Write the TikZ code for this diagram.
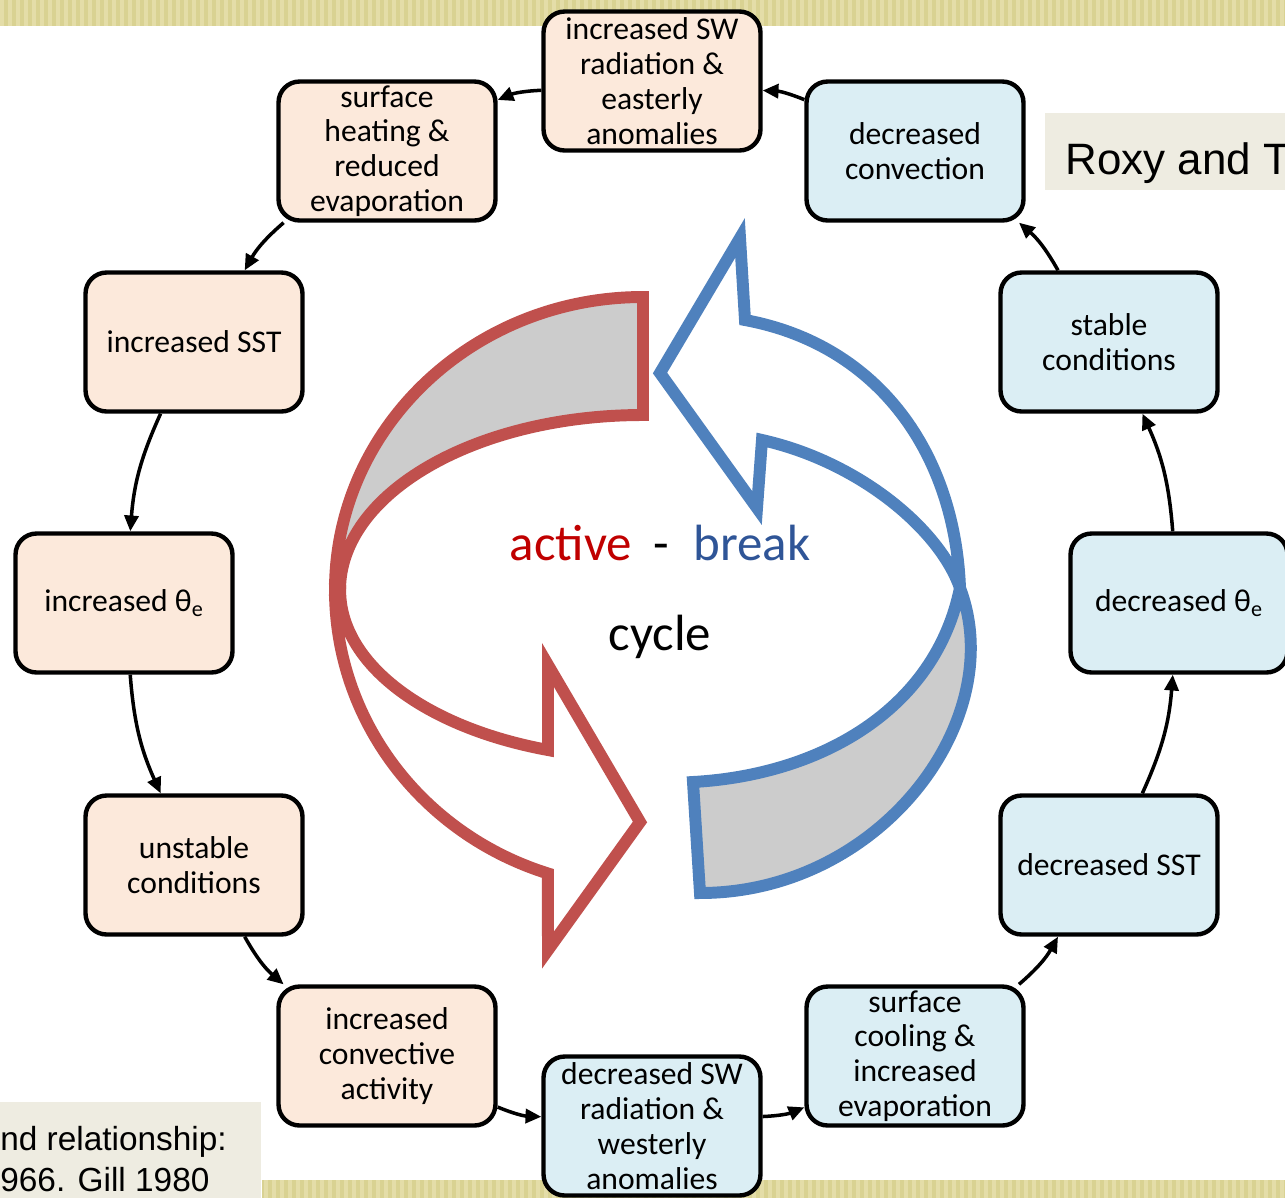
\documentclass[tikz,border=0pt]{standalone}
\usepackage{fontspec}
\setmainfont{Carlito}
\newfontfamily\notefont{Liberation Sans}
\usetikzlibrary{arrows.meta}

\definecolor{peach}{RGB}{252,233,219}
\definecolor{paleblue}{RGB}{219,238,244}
\definecolor{khaki}{RGB}{217,210,146}
\definecolor{khakilight}{RGB}{228,221,168}
\definecolor{notebg}{RGB}{238,236,225}
\definecolor{activered}{RGB}{192,80,77}
\definecolor{breakblue}{RGB}{79,129,189}
\definecolor{activetext}{RGB}{192,0,0}
\definecolor{breaktext}{RGB}{47,85,151}
\definecolor{ribbon}{RGB}{204,204,204}

\begin{document}
\begin{tikzpicture}[x=0.02cm, y=-0.02cm,
  stage/.style={draw=black, line width=2.5pt, rounded corners=12pt,
    minimum width=4.34cm, minimum height=2.78cm, align=center,
    inner sep=0pt, font=\fontsize{18}{19.8}\selectfont},
  link/.style={-{Triangle[length=9pt,width=8pt]}, line width=2pt, bend right=10},
  ribbonline/.style={line width=6.8pt, line join=miter}]

\useasboundingbox (0,0) rectangle (1285,1198);
\clip (0,0) rectangle (1285,1198);

% slide bands
\fill[khaki] (0,0) rectangle (1285,26);
\foreach \x in {0,8,...,1280}
  \fill[khakilight] (\x,0) rectangle ++(4,26);
\fill[khaki] (262,1180) rectangle (1285,1198);
\foreach \x in {264,272,...,1280}
  \fill[khakilight] (\x,1180) rectangle ++(4,18);

\fill[notebg] (1045,113) rectangle (1285,190);
\fill[notebg] (0,1102) rectangle (261,1198);

% active arrow
\filldraw[ribbonline, draw=activered, fill=ribbon] (643,297)
  arc[start angle=270, end angle=180, x radius=308, y radius=293] -- (340,590)
  arc[start angle=180, end angle=270, x radius=303, y radius=175] -- cycle;
\filldraw[ribbonline, draw=activered, fill=white] (335,590)
  arc[start angle=180, end angle=108, x radius=308, y radius=298]
  -- (548,950) -- (640,822) -- (548,665) -- (548,750)
  arc[start angle=108.3, end angle=180, x radius=303, y radius=168] -- cycle;

% break arrow
\filldraw[ribbonline, draw=breakblue, fill=white] (745,320) -- (740,238) -- (660,373)
  -- (757,508) -- (762,440) .. controls (860,462) and (940,530) .. (960,588)
  .. controls (955,455) and (880,345) .. (745,320) -- cycle;
\filldraw[ribbonline, draw=breakblue, fill=ribbon] (960,588)
  .. controls (935,710) and (820,775) .. (693,782) -- (700,893)
  .. controls (880,893) and (1010,720) .. (960,588) -- cycle;

\node[anchor=base, inner sep=0pt, font=\fontsize{29}{35}\selectfont] (phase) at (660,560)
  {\textcolor{activetext}{active}\hspace{0.42em}-\hspace{0.48em}\textcolor{breaktext}{break}};
\node[anchor=base, inner sep=0pt, font=\fontsize{29}{35}\selectfont] (cycle) at (660,650) {cycle};

% stages
\node[stage, fill=peach] (swup) at (652,81) {increased SW\\radiation \&\\easterly\\anomalies};
\node[stage, fill=peach] (heat) at (387,151) {surface\\heating \&\\reduced\\evaporation};
\node[stage, fill=peach] (sstup) at (194,342) {increased SST};
\node[stage, fill=peach] (thetaup) at (124,603) {increased θ\textsubscript{e}};
\node[stage, fill=peach] (unstable) at (194,865) {unstable\\conditions};
\node[stage, fill=peach] (convup) at (387,1056) {increased\\convective\\activity};
\node[stage, fill=paleblue] (swdown) at (652,1126) {decreased SW\\radiation \&\\westerly\\anomalies};
\node[stage, fill=paleblue] (cool) at (915,1056) {surface\\cooling \&\\increased\\evaporation};
\node[stage, fill=paleblue] (sstdown) at (1109,865) {decreased SST};
\node[stage, fill=paleblue] (thetadown) at (1179,603) {decreased θ\textsubscript{e}};
\node[stage, fill=paleblue] (stable) at (1109,342) {stable\\conditions};
\node[stage, fill=paleblue] (convdown) at (915,151) {decreased\\convection};

\foreach \src/\dst in {convdown/swup, swup/heat, heat/sstup, sstup/thetaup,
    thetaup/unstable, unstable/convup, convup/swdown, swdown/cool,
    cool/sstdown, sstdown/thetadown, thetadown/stable, stable/convdown}
  \draw[link] (\src) to (\dst);

\node[anchor=base west, inner sep=0pt, font=\notefont\fontsize{25}{30}\selectfont] (roxy) at (1065,174) {Roxy and T};
\node[anchor=base west, inner sep=0pt, font=\notefont\fontsize{19}{23}\selectfont] (refs) at (0,1150) {nd relationship:};
\node[anchor=base west, inner sep=0pt, font=\notefont\fontsize{19}{23}\selectfont] (years) at (0,1191) {966. Gill 1980};

\end{tikzpicture}
\end{document}
